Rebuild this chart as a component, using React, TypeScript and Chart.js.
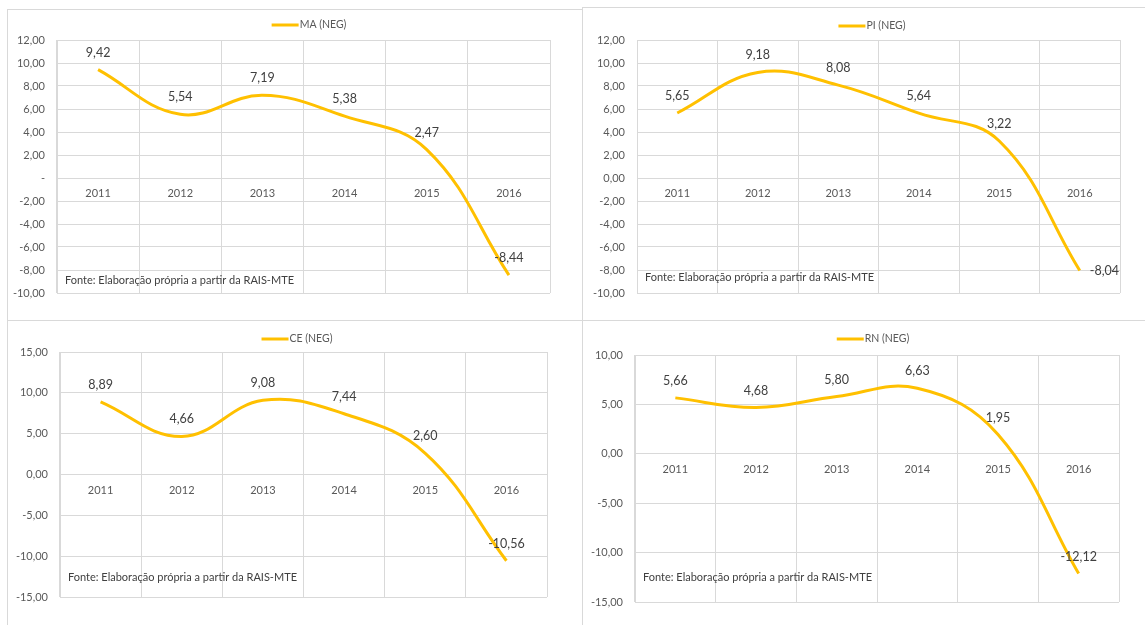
import React, { useEffect, useRef } from "react";
import { Chart, registerables } from "chart.js";

Chart.register(...registerables);

// ---------- DATA ----------
const years = ["2011", "2012", "2013", "2014", "2015", "2016"];
const maValues = [9.42, 5.54, 7.19, 5.38, 2.47, -8.44];
const piValues = [5.65, 9.18, 8.08, 5.64, 3.22, -8.04];
const ceValues = [8.89, 4.66, 9.08, 7.44, 2.6, -10.56];
const rnValues = [5.66, 4.68, 5.8, 6.63, 1.95, -12.12];
const seriesNames = ["MA (NEG)", "PI (NEG)", "CE (NEG)", "RN (NEG)"];
const sourceNote = "Fonte: Elaboração própria a partir da RAIS-MTE";
const maAxis = [-10, 12, 2];
const piAxis = [-10, 12, 2];
const ceAxis = [-15, 15, 5];
const rnAxis = [-15, 10, 5];
const maZeroLabel = "-";
const otherZeroLabel = "0,00";

// ---------- STYLE ----------
const LINE_COLOR = "#FFC000";
const GRID_COLOR = "#d9d9d9";
const TICK_COLOR = "#595959";
const LABEL_COLOR = "#404040";
const FONT = "Lato, 'Open Sans', sans-serif";

type PanelCfg = {
  name: string;
  values: number[];
  axis: number[];
  zeroLabel: string;
  box: { l: number; t: number; w: number; h: number };
  area: { l: number; t: number; r: number; b: number };
  legend: { x: number; y: number };
  noteY: number;
  labelPos: string[];
};

const panels: PanelCfg[] = [
  {
    name: seriesNames[0],
    values: maValues,
    axis: maAxis,
    zeroLabel: maZeroLabel,
    box: { l: 8, t: 10, w: 574, h: 310 },
    area: { l: 57, t: 40, r: 550, b: 293 },
    legend: { x: 309, y: 25 },
    noteY: 280,
    labelPos: ["top", "top", "top", "top", "top", "top"],
  },
  {
    name: seriesNames[1],
    values: piValues,
    axis: piAxis,
    zeroLabel: otherZeroLabel,
    box: { l: 583, t: 8, w: 562, h: 312 },
    area: { l: 637, t: 40, r: 1120, b: 293 },
    legend: { x: 872, y: 26 },
    noteY: 277,
    labelPos: ["top", "top", "top", "top", "top", "right"],
  },
  {
    name: seriesNames[2],
    values: ceValues,
    axis: ceAxis,
    zeroLabel: otherZeroLabel,
    box: { l: 8, t: 321, w: 574, h: 304 },
    area: { l: 60, t: 352, r: 547, b: 597 },
    legend: { x: 297, y: 339 },
    noteY: 577,
    labelPos: ["top", "top", "top", "top", "top", "top"],
  },
  {
    name: seriesNames[3],
    values: rnValues,
    axis: rnAxis,
    zeroLabel: otherZeroLabel,
    box: { l: 583, t: 321, w: 562, h: 304 },
    area: { l: 635, t: 355, r: 1119, b: 602 },
    legend: { x: 873, y: 339 },
    noteY: 577,
    labelPos: ["top", "top", "top", "top", "top", "top"],
  },
];

const fmt = (v: number) => v.toFixed(2).replace(".", ",");

function Panel({ cfg }: { cfg: PanelCfg }) {
  const ref = useRef<HTMLCanvasElement | null>(null);
  useEffect(() => {
    if (!ref.current) return;
    const { box, area } = cfg;
    const yWidth = area.l - box.l;
    const overlay = {
      id: "overlay-" + cfg.name,
      afterDatasetsDraw(chart: any) {
        const ctx = chart.ctx;
        ctx.save();
        // data labels
        const meta = chart.getDatasetMeta(0);
        ctx.font = `12.5px ${FONT}`;
        ctx.fillStyle = LABEL_COLOR;
        ctx.textBaseline = "middle";
        meta.data.forEach((pt: any, i: number) => {
          const txt = fmt(cfg.values[i]);
          if (cfg.labelPos[i] === "right") {
            ctx.textAlign = "left";
            ctx.fillText(txt, pt.x + 10, pt.y + 1);
          } else {
            ctx.textAlign = "center";
            ctx.fillText(txt, pt.x, pt.y - 17);
          }
        });
        // source note
        ctx.font = `11px ${FONT}`;
        ctx.textAlign = "left";
        ctx.fillStyle = LABEL_COLOR;
        ctx.fillText(sourceNote, chart.chartArea.left + 8, cfg.noteY - box.t);
        // legend
        ctx.font = `10.5px ${FONT}`;
        const tw = ctx.measureText(cfg.name).width;
        const lineW = 27;
        const total = lineW + 1 + tw;
        const lx = cfg.legend.x - box.l - total / 2;
        const ly = cfg.legend.y - box.t;
        ctx.strokeStyle = LINE_COLOR;
        ctx.lineWidth = 3;
        ctx.beginPath();
        ctx.moveTo(lx, ly);
        ctx.lineTo(lx + lineW, ly);
        ctx.stroke();
        ctx.fillStyle = TICK_COLOR;
        ctx.fillText(cfg.name, lx + lineW + 1, ly);
        ctx.restore();
      },
    };
    const chart = new Chart(ref.current, {
      type: "line",
      data: {
        labels: years,
        datasets: [
          {
            label: cfg.name,
            data: cfg.values,
            borderColor: LINE_COLOR,
            backgroundColor: LINE_COLOR,
            borderWidth: 3,
            tension: 0.4,
            pointRadius: 0,
            fill: false,
          },
        ],
      },
      options: {
        responsive: false,
        animation: false,
        layout: {
          padding: {
            left: 0,
            top: area.t - box.t,
            right: box.l + box.w - area.r,
            bottom: box.t + box.h - area.b,
          },
        },
        plugins: {
          legend: { display: false },
          tooltip: { enabled: false },
        },
        scales: {
          x: {
            type: "category",
            position: { y: 0 } as any,
            offset: true,
            grid: { offset: true, color: GRID_COLOR, drawTicks: false, lineWidth: 1 },
            border: { color: GRID_COLOR },
            ticks: {
              padding: 9,
              color: TICK_COLOR,
              font: { family: FONT, size: 11 },
              maxRotation: 0,
              autoSkip: false,
            },
          },
          y: {
            min: cfg.axis[0],
            max: cfg.axis[1],
            grid: { color: GRID_COLOR, drawTicks: false, lineWidth: 1 },
            border: { color: GRID_COLOR },
            ticks: {
              stepSize: cfg.axis[2],
              padding: 12,
              color: TICK_COLOR,
              font: { family: FONT, size: 11 },
              callback: (v: any) => (Math.abs(Number(v)) < 1e-9 ? cfg.zeroLabel : fmt(Number(v))),
            },
            afterFit: (s: any) => {
              s.width = yWidth;
            },
          },
        },
      },
      plugins: [overlay],
    } as any);
    return () => chart.destroy();
  }, [cfg]);
  return (
    <canvas
      ref={ref}
      width={cfg.box.w}
      height={cfg.box.h}
      style={{
        position: "absolute",
        left: cfg.box.l,
        top: cfg.box.t,
        width: cfg.box.w,
        height: cfg.box.h,
      }}
    />
  );
}

const line = (l: number, t: number, w: number, h: number) => (
  <div style={{ position: "absolute", left: l, top: t, width: w, height: h, background: GRID_COLOR }} />
);

export default function App() {
  return (
    <div
      style={{
        position: "fixed",
        left: 0,
        top: 0,
        width: 1145,
        height: 625,
        background: "#ffffff",
        overflow: "hidden",
      }}
    >
      {line(7, 9, 575, 1)}
      {line(583, 7, 562, 1)}
      {line(7, 9, 1, 616)}
      {line(582, 7, 1, 618)}
      {line(7, 320, 1138, 1)}
      {panels.map((p) => (
        <Panel key={p.name} cfg={p} />
      ))}
    </div>
  );
}
